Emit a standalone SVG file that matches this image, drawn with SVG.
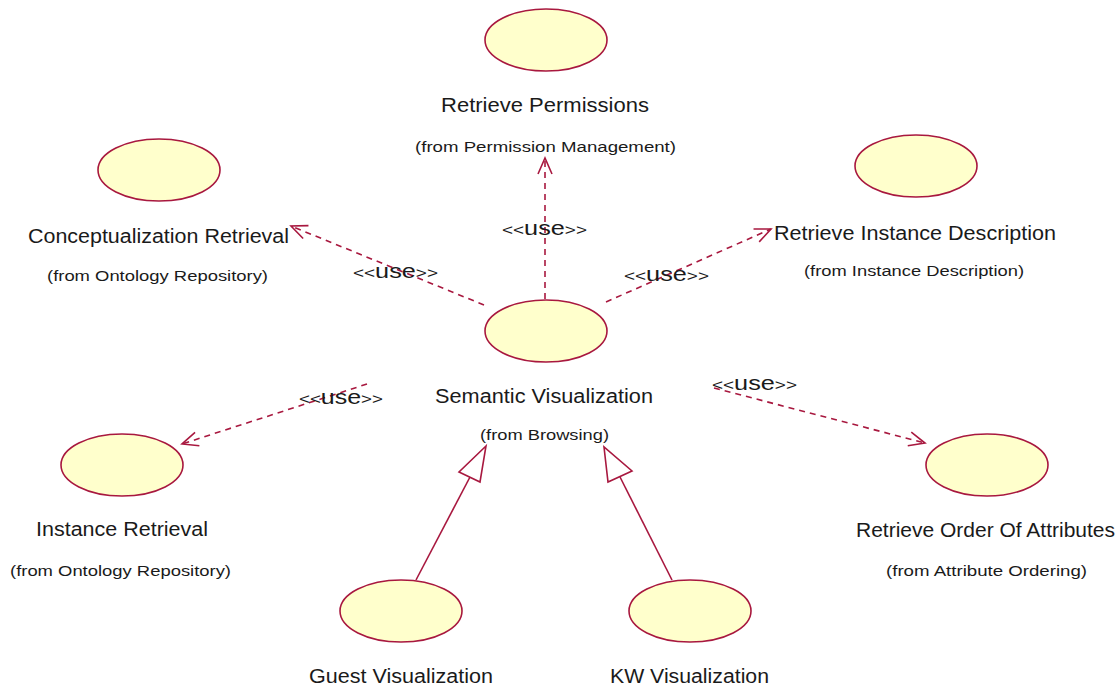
<svg xmlns="http://www.w3.org/2000/svg" width="1118" height="686" viewBox="0 0 1118 686">
  <style>
    .uc { fill: #ffffcc; stroke: #a8183f; stroke-width: 1.6; }
    .name { font-family: "Liberation Sans", Arial, sans-serif; font-size: 20px; fill: #1a1a1a; }
    .pkg { font-family: "Liberation Sans", Arial, sans-serif; font-size: 14px; fill: #1a1a1a; }
    .st { font-family: "Liberation Sans", Arial, sans-serif; font-size: 20px; fill: #1a1a1a; }
    .br { font-size: 15px; }
    .use { fill: none; stroke: #a8183f; stroke-width: 1.6; stroke-dasharray: 6 5; }
    .gen { fill: none; stroke: #a8183f; stroke-width: 1.6; }
    .head { fill: none; stroke: #a8183f; stroke-width: 1.6; }
  </style>
  <defs>
    <marker id="open" markerUnits="userSpaceOnUse" markerWidth="22" markerHeight="22" refX="17" refY="8" orient="auto">
      <path d="M1,1 L17,8 L1,15" fill="none" stroke="#a8183f" stroke-width="1.6"/>
    </marker>
  </defs>

  <rect width="1118" height="686" fill="#ffffff"/>

  <!-- dependency and generalization connectors -->
  <g id="connectors">
    <line class="use" x1="545" y1="299" x2="545" y2="158" marker-end="url(#open)"/>
    <line class="use" x1="484" y1="305" x2="291" y2="226" marker-end="url(#open)"/>
    <line class="use" x1="606" y1="302" x2="771" y2="229" marker-end="url(#open)"/>
    <line class="use" x1="367" y1="384" x2="182" y2="444" marker-end="url(#open)"/>
    <line class="use" x1="714" y1="388" x2="925" y2="443" marker-end="url(#open)"/>

    <line class="gen" x1="416" y1="580" x2="470" y2="477"/>
    <polygon class="head" points="486,446 459,472 480,482"/>
    <line class="gen" x1="672" y1="580" x2="620" y2="477"/>
    <polygon class="head" points="604,447 608,482 632,471"/>

    <text class="st" x="502" y="235" textLength="85" lengthAdjust="spacingAndGlyphs"><tspan class="br">&lt;&lt;</tspan>use<tspan class="br">&gt;&gt;</tspan></text>
    <text class="st" x="353" y="278" textLength="85" lengthAdjust="spacingAndGlyphs"><tspan class="br">&lt;&lt;</tspan>use<tspan class="br">&gt;&gt;</tspan></text>
    <text class="st" x="624" y="281" textLength="85" lengthAdjust="spacingAndGlyphs"><tspan class="br">&lt;&lt;</tspan>use<tspan class="br">&gt;&gt;</tspan></text>
    <text class="st" x="299" y="404" textLength="84" lengthAdjust="spacingAndGlyphs"><tspan class="br">&lt;&lt;</tspan>use<tspan class="br">&gt;&gt;</tspan></text>
    <text class="st" x="712" y="390" textLength="85" lengthAdjust="spacingAndGlyphs"><tspan class="br">&lt;&lt;</tspan>use<tspan class="br">&gt;&gt;</tspan></text>
  </g>

  <g id="retrieve-permissions">
    <ellipse class="uc" cx="546" cy="40" rx="61" ry="31"/>
    <text class="name" x="441" y="112" textLength="208" lengthAdjust="spacingAndGlyphs">Retrieve Permissions</text>
    <text class="pkg" x="415" y="152" textLength="261" lengthAdjust="spacingAndGlyphs">(from Permission Management)</text>
  </g>

  <g id="conceptualization-retrieval">
    <ellipse class="uc" cx="159" cy="170" rx="61" ry="31"/>
    <text class="name" x="28" y="243" textLength="261" lengthAdjust="spacingAndGlyphs">Conceptualization Retrieval</text>
    <text class="pkg" x="47" y="281" textLength="221" lengthAdjust="spacingAndGlyphs">(from Ontology Repository)</text>
  </g>

  <g id="retrieve-instance-description">
    <ellipse class="uc" cx="916" cy="166" rx="61" ry="31"/>
    <text class="name" x="774" y="240" textLength="282" lengthAdjust="spacingAndGlyphs">Retrieve Instance Description</text>
    <text class="pkg" x="804" y="276" textLength="220" lengthAdjust="spacingAndGlyphs">(from Instance Description)</text>
  </g>

  <g id="semantic-visualization">
    <ellipse class="uc" cx="546" cy="331" rx="61" ry="31"/>
    <text class="name" x="435" y="403" textLength="218" lengthAdjust="spacingAndGlyphs">Semantic Visualization</text>
    <text class="pkg" x="480" y="440" textLength="129" lengthAdjust="spacingAndGlyphs">(from Browsing)</text>
  </g>

  <g id="instance-retrieval">
    <ellipse class="uc" cx="122" cy="465" rx="61" ry="31"/>
    <text class="name" x="36" y="536" textLength="172" lengthAdjust="spacingAndGlyphs">Instance Retrieval</text>
    <text class="pkg" x="10" y="576" textLength="221" lengthAdjust="spacingAndGlyphs">(from Ontology Repository)</text>
  </g>

  <g id="retrieve-order-of-attributes">
    <ellipse class="uc" cx="987" cy="465" rx="61" ry="31"/>
    <text class="name" x="856" y="537" textLength="259" lengthAdjust="spacingAndGlyphs">Retrieve Order Of Attributes</text>
    <text class="pkg" x="886" y="576" textLength="201" lengthAdjust="spacingAndGlyphs">(from Attribute Ordering)</text>
  </g>

  <g id="guest-visualization">
    <ellipse class="uc" cx="401" cy="611" rx="61" ry="31"/>
    <text class="name" x="309" y="683" textLength="184" lengthAdjust="spacingAndGlyphs">Guest Visualization</text>
  </g>

  <g id="kw-visualization">
    <ellipse class="uc" cx="690" cy="611" rx="61" ry="31"/>
    <text class="name" x="610" y="683" textLength="159" lengthAdjust="spacingAndGlyphs">KW Visualization</text>
  </g>
</svg>
